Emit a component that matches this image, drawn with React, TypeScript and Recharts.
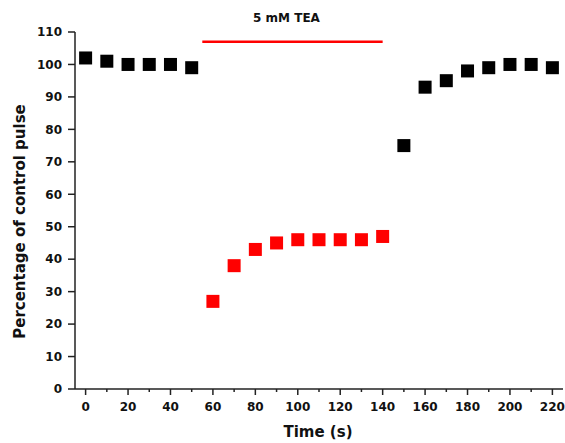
import React from 'react';
import { ComposedChart, Scatter, XAxis, YAxis, ReferenceLine, Label } from 'recharts';

// control pulses before and after the TEA wash-in
const controlTimes = [0, 10, 20, 30, 40, 50, 150, 160, 170, 180, 190, 200, 210, 220];
const controlValues = [102, 101, 100, 100, 100, 99, 75, 93, 95, 98, 99, 100, 100, 99];

// pulses during 5 mM TEA
const teaTimes = [60, 70, 80, 90, 100, 110, 120, 130, 140];
const teaValues = [27, 38, 43, 45, 46, 46, 46, 46, 47];

const xTicks = [0, 10, 20, 30, 40, 50, 60, 70, 80, 90, 100, 110, 120, 130, 140, 150, 160, 170, 180, 190, 200, 210, 220];
const yTicks = [0, 10, 20, 30, 40, 50, 60, 70, 80, 90, 100, 110];

const teaBar = { start: 55, end: 140, level: 107, label: '5 mM TEA' };

const controlData = controlTimes.map((t, i) => ({ time: t, value: controlValues[i] }));
const teaData = teaTimes.map((t, i) => ({ time: t, value: teaValues[i] }));

const FONT = '"DejaVu Sans", Verdana, sans-serif';

const squareShape = (color: string) => (props: any) => (
  <rect x={props.cx - 6.5} y={props.cy - 6.5} width={13} height={13} fill={color} />
);

function TimeTick(props: any) {
  const { x, y, payload } = props;
  const major = payload.value % 20 === 0;
  return (
    <g>
      <line x1={x} y1={y} x2={x} y2={y + (major ? 6 : 3)} stroke="#222" strokeWidth={1.5} />
      {major && (
        <text x={x} y={y + 22} textAnchor="middle" fontFamily={FONT} fontWeight="bold" fontSize={12} fill="#111">
          {payload.value}
        </text>
      )}
    </g>
  );
}

export default function App() {
  return (
    <div style={{ position: 'absolute', left: 0, top: 0, background: '#fff' }}>
      <ComposedChart width={565} height={443} margin={{ top: 32, right: 2, left: 0, bottom: 0 }}>
        <XAxis
          dataKey="time"
          type="number"
          domain={[-5, 225]}
          ticks={xTicks}
          interval={0}
          tickLine={false}
          tickSize={0}
          tickMargin={0}
          tick={<TimeTick />}
          height={54}
          axisLine={{ stroke: '#222', strokeWidth: 1.5 }}
          allowDataOverflow
        >
          <Label
            content={(p: any) => (
              <text
                x={p.viewBox.x + p.viewBox.width / 2 - 1}
                y={p.viewBox.y + 48}
                textAnchor="middle"
                fontFamily={FONT}
                fontWeight="bold"
                fontSize={15}
                fill="#111"
              >
                Time (s)
              </text>
            )}
          />
        </XAxis>
        <YAxis
          type="number"
          domain={[0, 110]}
          ticks={yTicks}
          interval={0}
          width={75}
          tickSize={7}
          tickMargin={6}
          tickLine={{ stroke: '#222', strokeWidth: 1.5 }}
          axisLine={{ stroke: '#222', strokeWidth: 1.5 }}
          tick={{ fontFamily: FONT, fontWeight: 'bold', fontSize: 12, fill: '#111' }}
        >
          <Label
            content={(p: any) => {
              const cx = p.viewBox.x + 20;
              const cy = p.viewBox.y + p.viewBox.height / 2 + 11;
              return (
                <text
                  x={cx}
                  y={cy}
                  transform={`rotate(-90, ${cx}, ${cy})`}
                  textAnchor="middle"
                  dominantBaseline="central"
                  fontFamily={FONT}
                  fontWeight="bold"
                  fontSize={15}
                  fill="#111"
                >
                  Percentage of control pulse
                </text>
              );
            }}
          />
        </YAxis>
        <ReferenceLine
          segment={[
            { x: teaBar.start, y: teaBar.level },
            { x: teaBar.end, y: teaBar.level },
          ]}
          stroke="#ff0000"
          strokeWidth={2.5}
          ifOverflow="visible"
          label={(p: any) => {
            const vb = p.viewBox;
            return (
              <text
                x={vb.x + vb.width / 2 - 6}
                y={vb.y - 20}
                textAnchor="middle"
                fontFamily={FONT}
                fontWeight="bold"
                fontSize={12}
                fill="#111"
              >
                {teaBar.label}
              </text>
            );
          }}
        />
        <Scatter data={controlData} dataKey="value" shape={squareShape('#000')} isAnimationActive={false} />
        <Scatter data={teaData} dataKey="value" shape={squareShape('#ff0000')} isAnimationActive={false} />
      </ComposedChart>
    </div>
  );
}
